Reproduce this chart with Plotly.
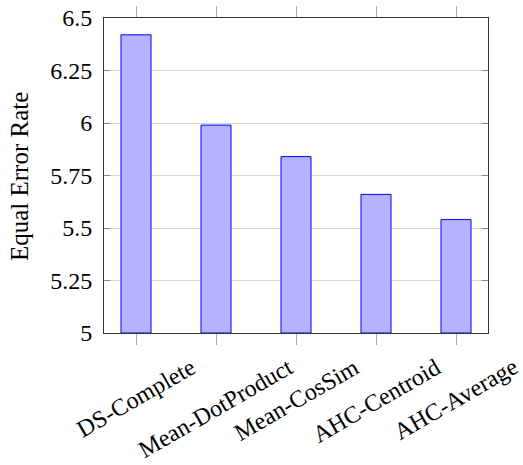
import plotly.graph_objects as go

categories = ["DS-Complete", "Mean-DotProduct", "Mean-CosSim", "AHC-Centroid", "AHC-Average"]
eer_values = [6.42, 5.99, 5.84, 5.66, 5.54]
y_ticks = [5, 5.25, 5.5, 5.75, 6, 6.25, 6.5]
y_tick_labels = ["5", "5.25", "5.5", "5.75", "6", "6.25", "6.5"]

W, H = 523, 465
L, R, T, B = 104, 35, 18, 132
plot_h = H - T - B
plot_w = W - L - R

fig = go.Figure()
fig.add_trace(go.Bar(
    x=list(range(len(categories))),
    y=[v - 5 for v in eer_values],
    base=5,
    width=0.375,
    marker=dict(color="#b3b3ff", line=dict(color="#0000ff", width=1)),
    hoverinfo="skip",
))

serif = "'Liberation Serif', 'Times New Roman', serif"
font = dict(family=serif, size=24, color="black")
title_font = dict(family=serif, size=25, color="black")

annotations = []
for i, c in enumerate(categories):
    annotations.append(dict(
        x=i, xref="x", y=(333 - 351) / plot_h, yref="paper",
        text=c, showarrow=False, textangle=-30,
        xanchor="center", yanchor="top", font=font,
    ))
annotations.append(dict(
    x=(19 - L) / plot_w, xref="paper", y=0.495, yref="paper",
    text="Equal Error Rate", showarrow=False, textangle=-90,
    xanchor="center", yanchor="middle", font=title_font,
))

fig.update_layout(
    width=W, height=H,
    margin=dict(l=L, r=R, t=T, b=B, autoexpand=False),
    plot_bgcolor="white", paper_bgcolor="white",
    showlegend=False,
    font=font,
    annotations=annotations,
    xaxis=dict(
        range=[-0.4, 4.4],
        tickvals=list(range(len(categories))),
        showticklabels=False,
        ticks="outside", ticklen=11, tickcolor="#aaaaaa", tickwidth=1,
        showgrid=False, zeroline=False, automargin=False,
        showline=True, linecolor="#333333", linewidth=1, mirror="ticks",
    ),
    yaxis=dict(
        range=[5, 6.5],
        tickvals=y_ticks, ticktext=y_tick_labels,
        ticks="inside", ticklen=6, tickcolor="#888888", tickwidth=1,
        showgrid=True, gridcolor="#d9d9d9", gridwidth=1,
        zeroline=False, automargin=False,
        showline=True, linecolor="#333333", linewidth=1, mirror="ticks",
        tickfont=font, ticklabelstandoff=6,
    ),
)

fig.write_html(
    "out.html",
    config={"displayModeBar": False},
    post_script="document.body.style.margin='0';document.body.style.overflow='hidden';",
)
